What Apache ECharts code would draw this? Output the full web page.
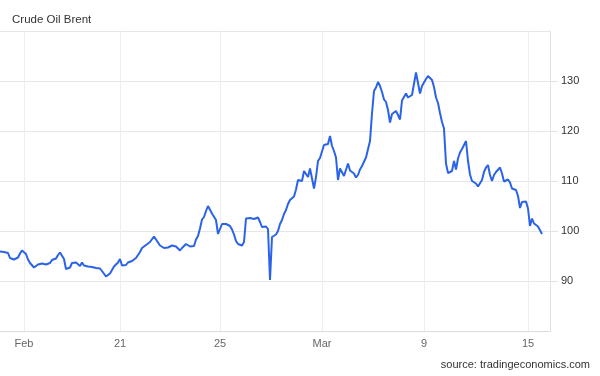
<!DOCTYPE html>
<html>
<head>
<meta charset="utf-8">
<script src="https://cdn.jsdelivr.net/npm/echarts@6/dist/echarts.min.js"></script>
<style>
html,body{margin:0;padding:0;background:#fff;}
#chart{width:600px;height:376px;}
</style>
</head>
<body>
<div id="chart"></div>
<script>
// Brent price, one sample per step along the time axis
const prices = [
95.9,95.8,95.8,95.9,95.6,94.6,94.3,94.3,94.0,94.7,
95.5,96.1,96.2,95.4,94.3,93.6,93.9,92.7,92.8,93.3,
93.3,93.5,93.2,93.3,93.4,93.6,94.2,94.3,94.5,95.2,
95.7,95.4,94.4,92.4,92.6,92.7,93.6,93.6,93.7,93.6,
93.0,93.7,93.1,92.7,92.9,92.7,92.8,92.7,92.6,92.7,
92.5,92.0,91.6,90.9,91.0,91.5,92.2,92.9,93.3,93.7,
94.4,93.1,93.2,93.2,93.7,94.1,94.0,94.3,94.6,95.0,
95.8,96.6,96.8,97.2,97.3,97.8,98.2,98.9,98.3,97.9,
97.1,96.8,96.6,96.6,96.7,97.0,97.1,97.0,96.9,96.9,
96.1,96.6,96.9,97.4,97.2,96.9,97.0,97.0,98.3,99.0,
100.5,102.3,102.8,104.0,105.0,105.0,103.5,103.2,102.2,99.4,
99.5,101.4,101.8,101.4,101.5,101.0,100.3,99.3,98.0,97.4,
97.2,97.1,97.8,102.5,102.5,102.6,102.4,102.4,102.3,102.7,
101.8,100.8,100.8,100.9,100.4,90.2,98.8,99.0,99.3,100.0,
101.4,102.2,103.4,104.2,105.4,106.2,105.9,106.9,108.3,110.2,
110.4,110.0,112.0,112.3,110.8,112.5,112.4,108.5,110.8,114.0,
114.6,115.9,117.2,117.0,117.4,119.0,117.0,116.0,114.7,110.2,
112.5,112.1,111.0,111.0,113.5,112.1,111.9,111.5,110.7,111.2,
112.3,113.0,113.3,114.7,114.6,118.0,123.5,128.0,128.7,129.8,
129.0,127.8,126.3,125.8,124.2,121.7,123.4,123.6,124.0,123.2,
122.3,126.1,126.3,127.5,126.7,126.7,127.2,127.0,131.7,131.6,
127.5,129.0,129.7,130.4,131.0,130.9,130.2,128.8,126.7,125.6,
123.6,121.8,120.5,113.5,111.6,111.9,112.0,114.0,112.3,114.5,
115.7,116.4,116.7,118.0,114.0,111.3,110.0,110.1,109.5,108.9,
108.8,110.2,111.8,112.7,113.2,111.2,110.0,111.2,111.8,112.0,
112.7,111.5,109.9,110.0,110.3,109.7,108.5,108.3,108.2,107.0,
104.6,105.8,106.0,105.9,104.5,101.0,102.5,101.5,101.2,100.9,
100.5,99.4
];
const categoryCount = 276;
const tickLabels = ['Feb', '21', '25', 'Mar', '9', '15'];
const tickIndex = [12, 60, 110, 161, 212, 264];
const yTicks = [80, 90, 100, 110, 120, 130, 140];

const categories = [];
for (let i = 0; i < categoryCount; i++) {
  const k = tickIndex.indexOf(i);
  categories.push(k >= 0 ? tickLabels[k] : '');
}
const showTick = (idx, val) => val !== '';

const chart = echarts.init(document.getElementById('chart'), null, {renderer: 'canvas'});
chart.setOption({
  animation: false,
  backgroundColor: '#ffffff',
  textStyle: {fontFamily: 'Liberation Sans, Arial, sans-serif'},
  title: {
    text: 'Crude Oil Brent',
    left: 7, top: 9,
    textStyle: {fontSize: 11.5, fontWeight: 'normal', color: '#333333', fontFamily: 'Liberation Sans, Arial, sans-serif'}
  },
  graphic: [{
    type: 'text', right: 10, top: 359,
    style: {text: 'source: tradingeconomics.com', fontSize: 11, fill: '#333333', font: '11px Liberation Sans, Arial, sans-serif'}
  }],
  grid: {left: 0, right: 50, top: 31, bottom: 45, containLabel: false},
  xAxis: {
    type: 'category',
    data: categories,
    boundaryGap: false,
    axisLine: {show: true, lineStyle: {color: '#dcdcdc', width: 1}},
    axisTick: {show: false},
    axisLabel: {interval: showTick, color: '#666666', fontSize: 11, margin: 7},
    splitLine: {show: true, interval: showTick, lineStyle: {color: '#eeeeee', width: 1}}
  },
  yAxis: {
    type: 'value',
    position: 'right',
    min: yTicks[0], max: yTicks[yTicks.length - 1], interval: 10,
    axisLine: {show: true, lineStyle: {color: '#e2e2e2', width: 1}},
    axisTick: {show: true, length: 8, lineStyle: {color: '#e2e2e2'}},
    axisLabel: {showMinLabel: false, showMaxLabel: false, color: '#333333', fontSize: 11, margin: 11},
    splitLine: {show: true, lineStyle: {color: '#e6e6e6', width: 1}}
  },
  series: [{
    type: 'line',
    data: prices,
    showSymbol: false,
    symbol: 'none',
    lineStyle: {color: '#2b63e8', width: 2},
    itemStyle: {color: '#2b63e8'}
  }]
});
</script>
</body>
</html>
